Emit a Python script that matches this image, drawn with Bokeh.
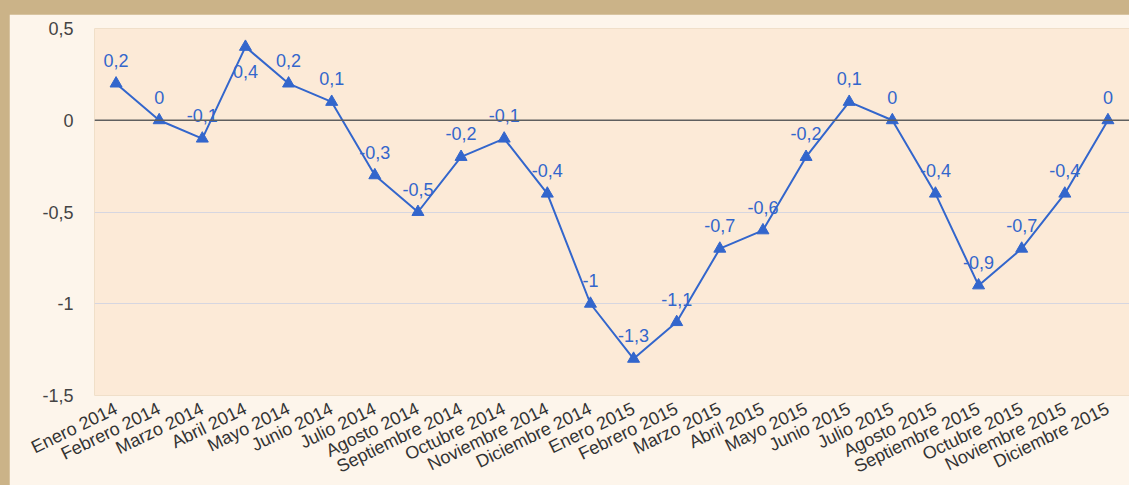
import math
from bokeh.plotting import figure
from bokeh.models import ColumnDataSource, FactorRange, Range1d, FixedTicker, Span
from bokeh.core.properties import value
from bokeh.embed import file_html
from bokeh.resources import INLINE

months = [
    "Enero 2014", "Febrero 2014", "Marzo 2014", "Abril 2014", "Mayo 2014", "Junio 2014",
    "Julio 2014", "Agosto 2014", "Septiembre 2014", "Octubre 2014", "Noviembre 2014", "Diciembre 2014",
    "Enero 2015", "Febrero 2015", "Marzo 2015", "Abril 2015", "Mayo 2015", "Junio 2015",
    "Julio 2015", "Agosto 2015", "Septiembre 2015", "Octubre 2015", "Noviembre 2015", "Diciembre 2015",
]
values = [0.2, 0.0, -0.1, 0.4, 0.2, 0.1, -0.3, -0.5, -0.2, -0.1, -0.4, -1.0,
          -1.3, -1.1, -0.7, -0.6, -0.2, 0.1, 0.0, -0.4, -0.9, -0.7, -0.4, 0.0]
y_ticks = [-1.5, -1.0, -0.5, 0.0, 0.5]
y_tick_labels = ["-1,5", "-1", "-0,5", "0", "0,5"]

BLUE = "#3366cc"
FONT = "Liberation Sans"
Y_MIN, Y_MAX = -1.5, 0.5
FRAME_H = 367
GAP = 23

labels = [f"{v:g}".replace(".", ",") for v in values]
px_per_unit = FRAME_H / (Y_MAX - Y_MIN)
offsets = [GAP + 2 if v + (GAP + 6) / px_per_unit > Y_MAX else -GAP for v in values]

src = ColumnDataSource(dict(m=months, v=values, lab=labels, off=offsets))

p = figure(
    width=1120, height=474,
    x_range=FactorRange(*months), y_range=Range1d(Y_MIN, Y_MAX),
    output_backend="svg", toolbar_location=None,
    min_border_left=85, min_border_right=0, min_border_top=14, min_border_bottom=88,
    background_fill_color="#fcead7", border_fill_color="#fdf5eb",
    outline_line_color=None,
)

p.xgrid.grid_line_color = None
p.ygrid.grid_line_color = "#d6d6e0"
p.ygrid.grid_line_width = 1
p.ygrid.ticker = FixedTicker(ticks=y_ticks)

p.yaxis.ticker = FixedTicker(ticks=y_ticks)
p.yaxis.major_label_overrides = dict(zip(y_ticks, y_tick_labels))
p.yaxis.axis_line_color = None
p.yaxis.major_tick_line_color = None
p.yaxis.minor_tick_line_color = None
p.yaxis.major_label_standoff = 15
p.yaxis.major_label_text_font = FONT
p.yaxis.major_label_text_font_size = "18px"
p.yaxis.major_label_text_color = "#444444"

p.xaxis.axis_line_color = None
p.xaxis.major_tick_line_color = None
p.xaxis.major_label_orientation = math.radians(26)
p.xaxis.major_label_standoff = 6
p.xaxis.major_label_text_font = FONT
p.xaxis.major_label_text_font_size = "18px"
p.xaxis.major_label_text_color = "#333333"

p.add_layout(Span(location=0, dimension="width", line_color="#5f5f5f", line_width=1.5))

p.line("m", "v", source=src, line_color=BLUE, line_width=2)
p.scatter("m", "v", source=src, marker="triangle", size=12, fill_color=BLUE, line_color=BLUE)
p.text("m", "v", text="lab", source=src, y_offset="off", text_align="center",
       text_baseline="middle", text_color=BLUE, text_font=value(FONT), text_font_size="18px")

html = file_html(p, INLINE)
html = html.replace("</head>", "<style>html,body{background:#cbb388 !important;}"
                    "body{padding:14px 0 0 9px !important;margin:0 !important;overflow:hidden !important;}"
                    "</style></head>", 1)
open("out.html", "w").write(html)
